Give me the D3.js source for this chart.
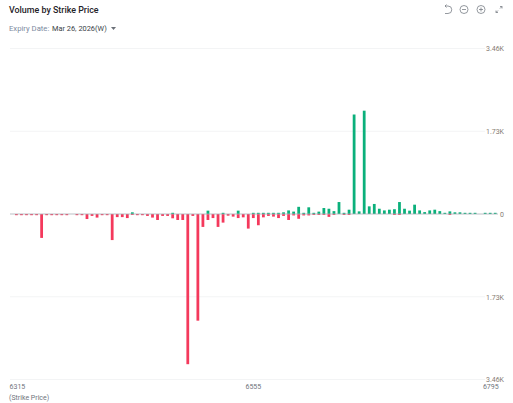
<!DOCTYPE html>
<html>
<head>
<meta charset="utf-8">
<script src="https://cdn.jsdelivr.net/npm/d3@7"></script>
<style>
  html, body { margin: 0; padding: 0; background: #fff; }
  text { font-family: Roboto, sans-serif; }
  .axis .domain, .axis line { display: none; }
</style>
</head>
<body>
<div id="chart"></div>
<script>
// strikes, 5 apart
var strikes = [
  6315,6320,6325,6330,6335,6340,6345,6350,6355,6360,6365,6370,6375,6380,6385,6390,
  6395,6400,6405,6410,6415,6420,6425,6430,6435,6440,6445,6450,6455,6460,6465,6470,
  6475,6480,6485,6490,6495,6500,6505,6510,6515,6520,6525,6530,6535,6540,6545,6550,
  6555,6560,6565,6570,6575,6580,6585,6590,6595,6600,6605,6610,6615,6620,6625,6630,
  6635,6640,6645,6650,6655,6660,6665,6670,6675,6680,6685,6690,6695,6700,6705,6710,
  6715,6720,6725,6730,6735,6740,6745,6750,6755,6760,6765,6770,6775,6780,6785,6790,
  6795
];

// volumes, same order as strikes
var putVolume = [
  25,25,25,25,25,500,25,25,25,25,25,0,25,25,105,40,
  75,25,25,545,65,65,85,20,25,25,40,75,125,40,40,90,
  125,125,3140,40,2230,270,125,85,270,180,35,55,85,70,305,85,
  235,70,40,55,85,40,125,30,100,30,30,20,20,20,60,20,
  0,20,20,0,0,0,0,0,0,0,0,20,20,0,0,0,
  0,0,0,0,0,0,20,0,0,0,0,0,0,0,0,0,
  0
];
var callVolume = [
  0,0,0,0,0,0,0,0,0,0,0,0,0,0,0,0,
  0,0,0,0,0,0,0,35,0,0,0,0,0,0,0,25,
  0,0,0,0,0,0,70,0,0,25,0,0,70,0,0,25,
  25,25,25,25,25,35,75,50,150,25,140,25,50,125,110,60,
  250,25,90,2080,55,2160,160,210,110,75,90,100,250,110,70,195,
  75,40,75,90,60,25,55,35,35,25,25,25,0,25,25,25,
  0
];

var xTicks = [6315, 6555, 6795];
var yTicks = [-3460, -1730, 0, 1730, 3460];
var yTickLabels = ["3.46K", "1.73K", "0", "1.73K", "3.46K"];

var svgWidth = 513;
var svgHeight = 403;

var svg = d3.select("#chart")
    .append("svg")
    .attr("width", svgWidth)
    .attr("height", svgHeight)
    .style("display", "block");

var xScale = d3.scaleBand()
    .domain(strikes)
    .range([13.9, 502.8])
    .paddingInner(0.45)
    .paddingOuter(0.225);

var yScale = d3.scaleLinear()
    .domain([-3460, 3460])
    .range([379.5, 48.5]);

// title and expiry row
svg.append("text")
    .attr("x", 9).attr("y", 13)
    .attr("font-size", 8.9).attr("font-weight", 500).attr("fill", "#1f2329")
    .text("Volume by Strike Price");

svg.append("text")
    .attr("x", 9).attr("y", 31)
    .attr("font-size", 7.7).attr("fill", "#7d8aa0")
    .text("Expiry Date:");

svg.append("text")
    .attr("x", 52).attr("y", 31)
    .attr("font-size", 7.4).attr("fill", "#3a3f47")
    .text("Mar 26, 2026(W)");

svg.append("path")
    .attr("d", "M111,27 h5 l-2.5,3 z")
    .attr("fill", "#6b7078");

// toolbar icons
var icons = svg.append("g")
    .attr("fill", "none").attr("stroke", "#7a7f87").attr("stroke-width", 0.8);
icons.append("path").attr("d", "M445,6 h3 a3.5,3.5 0 0 1 0,7.5 h-3 M445,6 l1.5,-1.5 M445,6 l1.5,1.5");
icons.append("circle").attr("cx", 464).attr("cy", 9.5).attr("r", 4);
icons.append("path").attr("d", "M462,9.5 h4");
icons.append("circle").attr("cx", 481).attr("cy", 9.5).attr("r", 4);
icons.append("path").attr("d", "M479,9.5 h4 M481,7.5 v4");
icons.append("path").attr("d", "M496,12.5 l2,-2 M496,10.5 v2 h2 M500,8.5 l2,-2 M500,6.5 h2 v2");

// grid lines
svg.append("g")
    .selectAll("line")
    .data(yTicks.filter(d => d !== 0))
    .enter()
    .append("line")
    .attr("x1", 10)
    .attr("x2", 485)
    .attr("y1", d => yScale(d))
    .attr("y2", d => yScale(d))
    .attr("stroke", "#f3f4f5");

// bars
svg.append("g")
    .selectAll("rect")
    .data(strikes.map((s, i) => ({ strike: s, vol: callVolume[i] })).filter(d => d.vol > 0))
    .enter()
    .append("rect")
    .attr("x", d => xScale(d.strike))
    .attr("width", xScale.bandwidth())
    .attr("y", d => yScale(d.vol))
    .attr("height", d => yScale(0) - yScale(d.vol))
    .attr("fill", "#0bb07b");

svg.append("g")
    .selectAll("rect")
    .data(strikes.map((s, i) => ({ strike: s, vol: putVolume[i] })).filter(d => d.vol > 0))
    .enter()
    .append("rect")
    .attr("x", d => xScale(d.strike))
    .attr("width", xScale.bandwidth())
    .attr("y", yScale(0))
    .attr("height", d => yScale(-d.vol) - yScale(0))
    .attr("fill", "#f4395c");

// zero line
svg.append("line")
    .attr("x1", 10)
    .attr("x2", 498)
    .attr("y1", yScale(0))
    .attr("y2", yScale(0))
    .attr("stroke", "#a9aeb6")
    .attr("stroke-width", 0.8);

// axes
var rightAxis = d3.axisRight(yScale)
    .tickValues(yTicks)
    .tickFormat((d, i) => yTickLabels[i])
    .tickSize(0)
    .tickPadding(0);

svg.append("g")
    .attr("class", "axis")
    .attr("transform", "translate(504, 0)")
    .call(rightAxis)
    .selectAll("text")
    .attr("text-anchor", "end")
    .attr("font-size", 7)
    .attr("fill", "#857b72");

var bottomAxis = d3.axisBottom(xScale)
    .tickValues(xTicks)
    .tickSize(0)
    .tickPadding(0);

var xAxis = svg.append("g")
    .attr("class", "axis")
    .attr("transform", "translate(0, 384.5)")
    .call(bottomAxis);

// end labels get pulled inside, the middle one sits a little left of its strike
xAxis.selectAll("text")
    .attr("font-size", 7)
    .attr("fill", "#6f747c")
    .attr("dx", (d, i) => [1, -5, -9.5][i]);

svg.append("text")
    .attr("x", 9).attr("y", 399.5)
    .attr("font-size", 7).attr("fill", "#6f747c")
    .text("(Strike Price)");
</script>
</body>
</html>
